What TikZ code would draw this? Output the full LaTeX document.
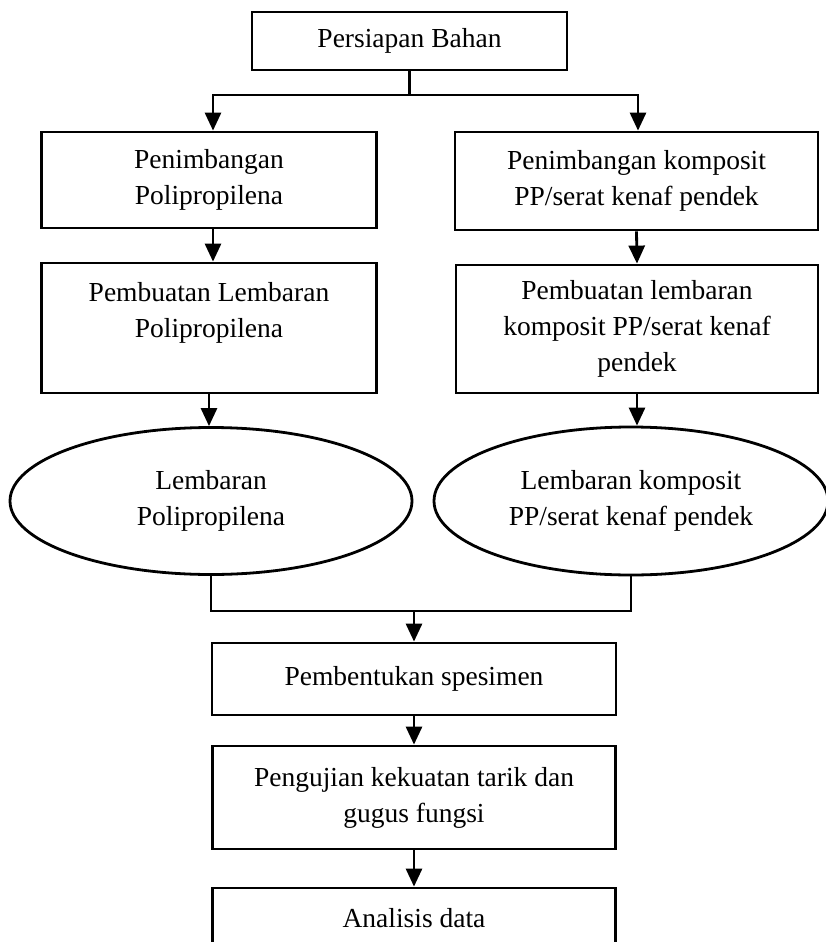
\documentclass[tikz,border=0pt]{standalone}
\usepackage{fontspec}
\setmainfont{Liberation Serif}
\usetikzlibrary{arrows.meta,shapes.geometric}
\begin{document}
\begin{tikzpicture}[x=1pt,y=-1pt,
  every node/.style={font={\fontsize{27.5}{36}\selectfont}, align=center, inner sep=0pt},
  box/.style={draw, line width=2.8pt, rectangle, minimum width=#1},
  oval/.style={draw, line width=2.8pt, ellipse},
  conn/.style={line width=2.8pt},
  arr/.style={line width=2.8pt, -{Triangle[width=16pt,length=18pt]}}]
\clip (0,0) rectangle (826,942);
\fill[white] (0,0) rectangle (826,942);

\node[box=315, minimum height=58] (p) at (409.5,41) {Persiapan Bahan};
\node[box=335, minimum height=96] (l1) at (209,180) {Penimbangan\\Polipropilena};
\node[box=363, minimum height=98] (r1) at (636.5,181) {Penimbangan komposit\\PP/serat kenaf pendek};
\node[box=335, minimum height=130] (l2) at (209,328) {Pembuatan Lembaran\\Polipropilena\\\mbox{}};
\node[box=362, minimum height=128] (r2) at (637,329) {Pembuatan lembaran\\komposit PP/serat kenaf\\pendek};
\node[oval, minimum width=402, minimum height=147] (le) at (211,501) {Lembaran\\Polipropilena};
\node[oval, minimum width=394, minimum height=148] (re) at (631,501) {Lembaran komposit\\PP/serat kenaf pendek};
\node[box=404, minimum height=72] (sp) at (414,679) {Pembentukan spesimen};
\node[box=403, minimum height=103] (uj) at (414,797.5) {Pengujian kekuatan tarik dan\\gugus fungsi};
\node[box=403, minimum height=60] (an) at (414,918) {Analisis data};

\coordinate (split) at (409.5,95);
\coordinate (merge) at (414,611);
\draw[conn] (p.south) -- (split);
\draw[arr] (split) -| ([xshift=4]l1.north);
\draw[arr] (split) -| ([xshift=1.5]r1.north);
\draw[arr] ([xshift=4]l1.south) -- ([xshift=4]l2.north);
\draw[arr] (r1.south) -- (r2.north);
\draw[arr] (l2.south) -- (l2.south |- le.north);
\draw[arr] (r2.south) -- (r2.south |- re.north);
\draw[conn] (le.south) |- (merge);
\draw[conn] (re.south) |- (merge);
\draw[arr] (merge) -- (sp.north);
\draw[arr] (sp.south) -- (uj.north);
\draw[arr] (uj.south) -- (an.north);
\end{tikzpicture}
\end{document}
